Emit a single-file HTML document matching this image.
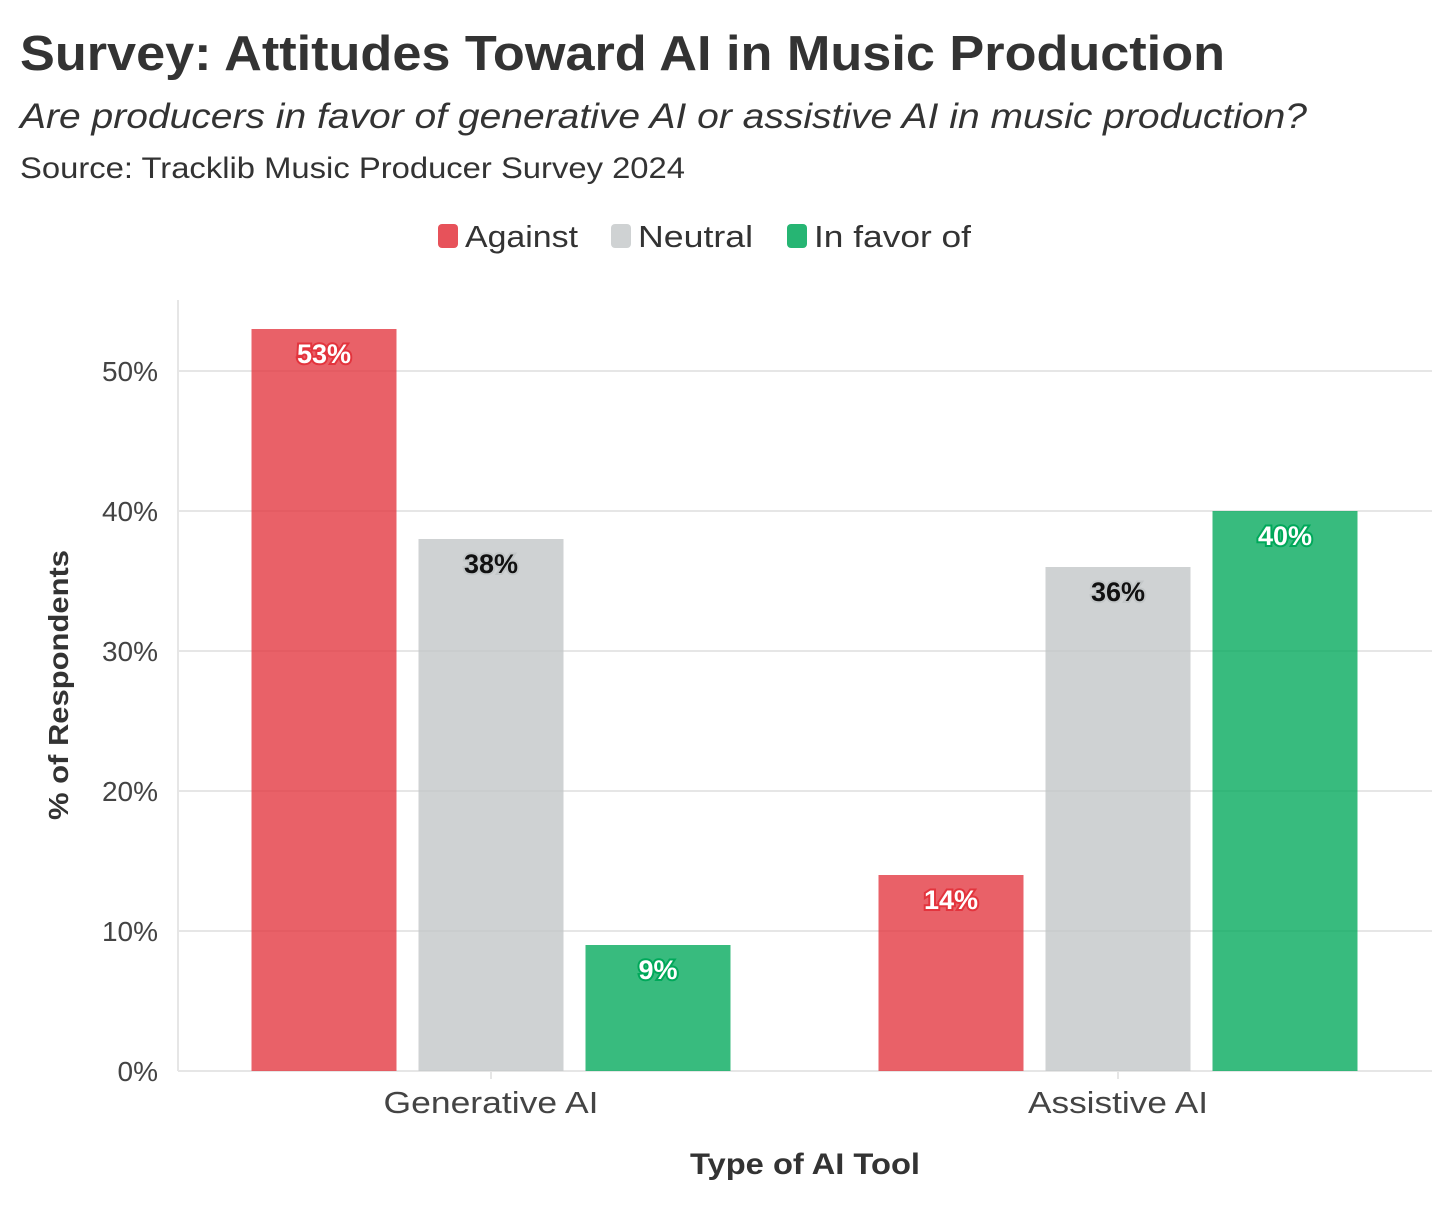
<!DOCTYPE html>
<html><head><meta charset="utf-8"><style>
body{margin:0;background:#fff;font-family:"Liberation Sans",sans-serif;}
svg text{font-family:"Liberation Sans",sans-serif;}
</style></head><body>
<svg id="chart" width="1456" height="1218" xmlns="http://www.w3.org/2000/svg">
<text x="20" y="70" font-size="49" font-weight="bold" fill="#333" textLength="1205" lengthAdjust="spacingAndGlyphs">Survey: Attitudes Toward AI in Music Production</text>
<text x="20" y="128" font-size="35" font-style="italic" fill="#333" textLength="1287" lengthAdjust="spacingAndGlyphs">Are producers in favor of generative AI or assistive AI in music production?</text>
<text x="20" y="178" font-size="30" fill="#333" textLength="665" lengthAdjust="spacingAndGlyphs">Source: Tracklib Music Producer Survey 2024</text>
<g id="legend"></g>
<g id="grid"></g>
<g id="bars"></g>
<g id="labels"></g>
<text x="805" y="1174" font-size="30" font-weight="bold" fill="#333" text-anchor="middle" textLength="230" lengthAdjust="spacingAndGlyphs">Type of AI Tool</text>
<text transform="translate(68,685) rotate(-90)" font-size="28" font-weight="bold" fill="#333" text-anchor="middle" textLength="270" lengthAdjust="spacingAndGlyphs">% of Respondents</text>
</svg>
<script>
const categories = ["Generative AI", "Assistive AI"];
const seriesNames = ["Against", "Neutral", "In favor of"];
const against = [53, 14];
const neutral = [38, 36];
const inFavor = [9, 40];
const yTicks = [0, 10, 20, 30, 40, 50];

const NS = "http://www.w3.org/2000/svg";
const colors = ["#e3343d", "#c3c7c8", "#00a85a"];
const seriesVals = [against, neutral, inFavor];
const plotL = 178, plotR = 1432, y0 = 1071, pxPer = 14;
const y = v => y0 - v * pxPer;
const groupCenter = i => 491 + i * 627;
const barW = 145, step = 167;
const catLen = [215, 180];
function mk(tag, attrs, parent) { const e = document.createElementNS(NS, tag); for (const k in attrs) e.setAttribute(k, attrs[k]); parent.appendChild(e); return e; }

const grid = document.getElementById("grid");
yTicks.forEach(t => {
  const l = mk("line", {x1: plotL, x2: plotR, y1: y(t), y2: y(t), stroke: "#e6e6e6", "stroke-width": 2}, grid);
  
  
  const tx = mk("text", {x: 158, y: y(t) + 10, "font-size": 28, fill: "#444", "text-anchor": "end"}, grid);
  tx.textContent = t + "%";
  
  
});
mk("line", {x1: plotL, x2: plotL, y1: 300, y2: y0, stroke: "#e6e6e6", "stroke-width": 2}, grid);
categories.forEach((c, i) => {
  mk("line", {x1: groupCenter(i), x2: groupCenter(i), y1: y0, y2: y0 + 8, stroke: "#e6e6e6", "stroke-width": 2}, grid);
  const tx = mk("text", {x: groupCenter(i), y: 1113, "font-size": 31, fill: "#444", "text-anchor": "middle", textLength: catLen[i], lengthAdjust: "spacingAndGlyphs"}, grid);
  tx.textContent = c;
  
  
});

const bars = document.getElementById("bars"), labels = document.getElementById("labels");
categories.forEach((c, i) => {
  seriesVals.forEach((vals, s) => {
    const v = vals[i];
    const cx = groupCenter(i) + (s - 1) * step;
    const r = mk("rect", {x: cx - barW / 2, y: y(v), width: barW, height: y0 - y(v), fill: colors[s], "fill-opacity": s === 1 ? 0.8 : 0.78}, bars);
    
    
    const tx = mk("text", {x: cx, y: y(v) + 34, "font-size": 27, "font-weight": "bold", "text-anchor": "middle",
      fill: s === 1 ? "#111" : "#fff", stroke: s === 1 ? "#c3c7c8" : colors[s], "stroke-width": 4, "paint-order": "stroke"}, labels);
    tx.textContent = v + "%";
    
    
  });
});

const legend = document.getElementById("legend");
const lx = [438, 611, 787];
const lLen = [113, 115, 157];
seriesNames.forEach((n, s) => {
  const r = mk("rect", {x: lx[s], y: 224, width: 20, height: 24, rx: 4, fill: colors[s], "fill-opacity": s === 1 ? 0.8 : 0.85}, legend);
  
  
  const tx = mk("text", {x: lx[s] + 27, y: 247, "font-size": 31, fill: "#333", textLength: lLen[s], lengthAdjust: "spacingAndGlyphs"}, legend);
  tx.textContent = n;
  
  
});
</script>
</body></html>
